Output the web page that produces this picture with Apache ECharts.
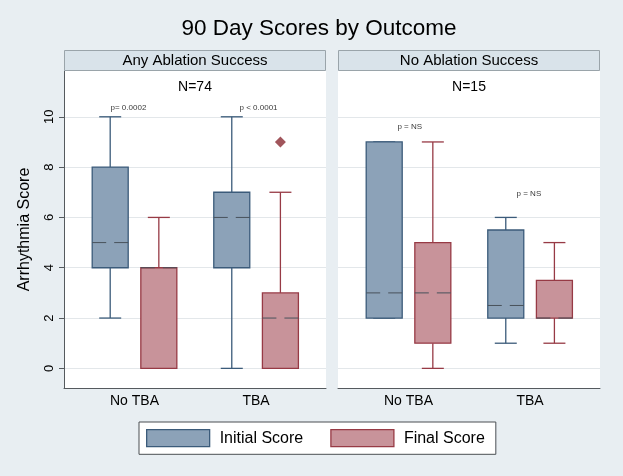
<!DOCTYPE html>
<html><head><meta charset="utf-8">
<script src="https://cdn.jsdelivr.net/npm/echarts@6/dist/echarts.min.js"></script>
<style>html,body{margin:0;padding:0;background:#e8eef2}#c{width:623px;height:476px}</style>
</head><body><div id="c"></div>
<script>
const chartTitle = '90 Day Scores by Outcome';
const yAxisTitle = 'Arrhythmia Score';
const categories = ['No TBA', 'TBA'];
const panels = ['Any Ablation Success', 'No Ablation Success'];
const panelN = ['N=74', 'N=15'];
const seriesNames = ['Initial Score', 'Final Score'];
const yTicks = [0, 2, 4, 6, 8, 10];
// [min, Q1, median, Q3, max] per category (No TBA, TBA)
const initialAny = [[2, 4, 5, 8, 10], [0, 4, 6, 7, 10]];
const finalAny = [[0, 0, 4, 4, 6], [0, 0, 2, 3, 7]];
const initialNone = [[2, 2, 3, 9, 9], [1, 2, 2.5, 5.5, 6]];
const finalNone = [[0, 1, 3, 5, 9], [1, 2, 2, 3.5, 5]];
// outliers: [category index, value]
const outliersFinalAny = [[1, 9]];
// p-value annotations: text, x (category coordinate), y (score)
const pTextAny = ['p= 0.0002', 'p < 0.0001'];
const pXAny = [0.95, 2.02];
const pYAny = [10.35, 10.35];
const pTextNone = ['p = NS', 'p = NS'];
const pXNone = [1.01, 1.99];
const pYNone = [9.6, 6.95];

const FONT = '"Liberation Sans", Arial, Helvetica, sans-serif';
const COL = {
  initFill: '#8ca2b8', initLine: '#3b5b7a',
  finFill: '#c8939a', finLine: '#973a45',
  outlier: '#8a2a32', median: '#48525b'
};
const OFF = 0.2;
const GRID_LEFTS = [64, 338];
const GRID_TOP = 71, GRID_W = 262, GRID_H = 317;

function boxRender(fill, stroke) {
  return function (params, api) {
    const x = api.value(0);
    const pMin = api.coord([x, api.value(1)]);
    const pQ1 = api.coord([x, api.value(2)]);
    const pMed = api.coord([x, api.value(3)]);
    const pQ3 = api.coord([x, api.value(4)]);
    const pMax = api.coord([x, api.value(5)]);
    const cx = pMin[0], bw = 36, cw = 22;
    const ls = { stroke: stroke, lineWidth: 1.3, fill: null };
    return {
      type: 'group', children: [
        { type: 'line', shape: { x1: cx, y1: pQ3[1], x2: cx, y2: pMax[1] }, style: ls },
        { type: 'line', shape: { x1: cx, y1: pMin[1], x2: cx, y2: pQ1[1] }, style: ls },
        { type: 'line', shape: { x1: cx - cw / 2, y1: pMax[1], x2: cx + cw / 2, y2: pMax[1] }, style: ls },
        { type: 'line', shape: { x1: cx - cw / 2, y1: pMin[1], x2: cx + cw / 2, y2: pMin[1] }, style: ls },
        { type: 'rect', shape: { x: cx - bw / 2, y: pQ3[1], width: bw, height: pQ1[1] - pQ3[1] },
          style: { fill: fill, stroke: stroke, lineWidth: 1.3 } },
        { type: 'line', shape: { x1: cx - bw / 2, y1: pMed[1], x2: cx + bw / 2, y2: pMed[1] },
          style: { stroke: COL.median, lineWidth: 1, lineDash: [14, 8], fill: null } }
      ]
    };
  };
}

function boxSeries(name, arr, sign, gi, fill, stroke) {
  return {
    type: 'custom', name: name, xAxisIndex: gi, yAxisIndex: gi,
    itemStyle: { color: fill, borderColor: stroke },
    encode: { x: 0, y: [1, 2, 3, 4, 5] },
    data: arr.map((d, i) => [i + 1 + sign * OFF].concat(d)),
    renderItem: boxRender(fill, stroke),
    silent: true, clip: false
  };
}

function pSeries(texts, xs, ys, gi) {
  return {
    type: 'scatter', xAxisIndex: gi, yAxisIndex: gi, symbolSize: 0, silent: true,
    data: texts.map((t, i) => ({ name: t, value: [xs[i], ys[i]] })),
    label: { show: true, position: 'inside', formatter: p => p.name, fontSize: 8, color: '#000', fontFamily: FONT }
  };
}

const grids = [], xAxes = [], yAxes = [], graphics = [];
GRID_LEFTS.forEach((left, gi) => {
  grids.push({ left: left, top: GRID_TOP, width: GRID_W, height: GRID_H, show: true,
    backgroundColor: '#ffffff', borderWidth: 0 });
  xAxes.push({
    type: 'value', gridIndex: gi, min: 0.42, max: 2.575,
    axisLine: { show: true, onZero: false, lineStyle: { color: '#555a5e', width: 1 } },
    axisTick: { show: false },
    splitLine: { show: false },
    axisLabel: { customValues: [1, 2], formatter: v => categories[Math.round(v) - 1],
      fontSize: 14, color: '#000', margin: 6, fontFamily: FONT }
  });
  yAxes.push({
    type: 'value', gridIndex: gi, min: -0.78, max: 11.82,
    name: gi === 0 ? yAxisTitle : '', nameLocation: 'middle', nameGap: 31, nameRotate: 90,
    nameTextStyle: { fontSize: 16, color: '#000', fontFamily: FONT },
    axisLine: { show: gi === 0, lineStyle: { color: '#555a5e', width: 1 } },
    axisTick: { show: gi === 0, length: 5, customValues: yTicks, lineStyle: { color: '#555a5e' } },
    axisLabel: { show: gi === 0, customValues: yTicks, rotate: 90, fontSize: 13, color: '#000', margin: 8, fontFamily: FONT },
    splitLine: { show: true, lineStyle: { color: '#e3e7ea', width: 1 } }
  });
  graphics.push({ type: 'rect', shape: { x: left + 0.5, y: 50.5, width: GRID_W - 1, height: 20 },
    style: { fill: '#d9e3ea', stroke: '#9aa4aa', lineWidth: 1 }, z: 10 });
  graphics.push({ type: 'text', x: left + GRID_W / 2, y: 61,
    style: { text: panels[gi], fontSize: 15, fill: '#000', font: '15px ' + FONT, textAlign: 'center', textVerticalAlign: 'middle' }, z: 11 });
  graphics.push({ type: 'text', x: left + GRID_W / 2, y: 87,
    style: { text: panelN[gi], fill: '#000', font: '14px ' + FONT, textAlign: 'center', textVerticalAlign: 'middle' }, z: 11 });
});
graphics.push({ type: 'text', x: 319, y: 29,
  style: { text: chartTitle, fill: '#000', font: '22.5px ' + FONT, textAlign: 'center', textVerticalAlign: 'middle' }, z: 11 });

const series = [
  boxSeries(seriesNames[0], initialAny, -1, 0, COL.initFill, COL.initLine),
  boxSeries(seriesNames[1], finalAny, 1, 0, COL.finFill, COL.finLine),
  boxSeries(seriesNames[0], initialNone, -1, 1, COL.initFill, COL.initLine),
  boxSeries(seriesNames[1], finalNone, 1, 1, COL.finFill, COL.finLine),
  {
    type: 'scatter', xAxisIndex: 0, yAxisIndex: 0, symbol: 'diamond', symbolSize: 11, silent: true,
    itemStyle: { color: COL.outlier },
    data: outliersFinalAny.map(o => [o[0] + 1 + OFF, o[1]])
  },
  pSeries(pTextAny, pXAny, pYAny, 0),
  pSeries(pTextNone, pXNone, pYNone, 1)
];

const chart = echarts.init(document.getElementById('c'), null, { renderer: 'canvas' });
chart.setOption({
  backgroundColor: '#e8eef2',
  animation: false,
  tooltip: { show: false },
  grid: grids, xAxis: xAxes, yAxis: yAxes,
  legend: {
    left: 139, top: 422, orient: 'horizontal', selectedMode: false,
    padding: [7, 11, 7, 7], backgroundColor: '#ffffff', borderColor: '#4a4f53', borderWidth: 1, borderRadius: 0,
    itemWidth: 63, itemHeight: 17, itemGap: 27,
    data: [
      { name: seriesNames[0], icon: 'rect', itemStyle: { color: COL.initFill, borderColor: COL.initLine, borderWidth: 1.3 } },
      { name: seriesNames[1], icon: 'rect', itemStyle: { color: COL.finFill, borderColor: COL.finLine, borderWidth: 1.3 } }
    ],
    textStyle: { fontSize: 16, color: '#000', fontFamily: FONT, padding: [0, 0, 0, 5] }
  },
  graphic: graphics,
  series: series
});
</script></body></html>
